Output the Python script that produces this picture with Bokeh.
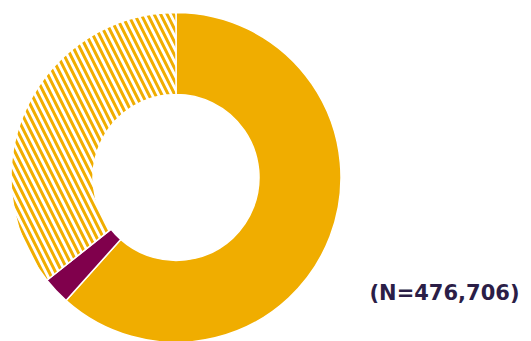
import math
from bokeh.plotting import figure
from bokeh.models import Range1d, ColumnDataSource
from bokeh.core.properties import value
from bokeh.embed import file_html
from bokeh.resources import INLINE

# data
categories = ["Category A", "Category B", "Category C"]
shares = [61.6, 2.7, 35.7]
fill_colors = ["#F0AD00", "#80004C", "white"]
hatch_patterns = [" ", " ", "\\"]
note_text = ["(N=476,706)"]

W, H = 531, 341
p = figure(width=W, height=H, output_backend="svg", toolbar_location=None,
           x_range=Range1d(0, W), y_range=Range1d(0, H), min_border=0)
p.axis.visible = False
p.grid.visible = False
p.outline_line_color = None
p.background_fill_color = "white"
p.border_fill_color = "white"

total = sum(shares)
starts, ends = [], []
acc = 0.0
for s in shares:
    a0 = math.pi / 2 - 2 * math.pi * acc / total
    acc += s
    a1 = math.pi / 2 - 2 * math.pi * acc / total
    starts.append(a0)
    ends.append(a1)

src = ColumnDataSource(dict(cat=categories, share=shares, start=starts, end=ends,
                            color=fill_colors, hatch=hatch_patterns))
cx, cy = 175.5, H - 177
p.annular_wedge(x=cx, y=cy, inner_radius=83, outer_radius=165,
                start_angle="start", end_angle="end", direction="clock",
                fill_color="color", line_color="white", line_width=1.5,
                hatch_pattern="hatch", hatch_color="#F0AD00", hatch_weight=3,
                hatch_scale=13, source=src)

p.text(x=[519], y=[H - 292], text=note_text, text_font=value("DejaVu Sans"),
       text_font_style="bold", text_font_size="21px", text_color="#2B1E47",
       text_align="right", text_baseline="middle")

open("out.html", "w").write(file_html(p, INLINE))
